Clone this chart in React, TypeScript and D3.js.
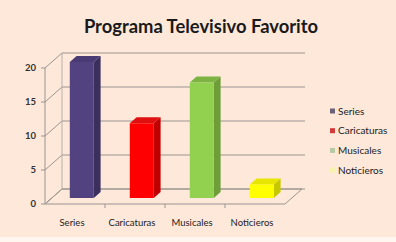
import * as d3 from 'd3';

const categories = ['Series', 'Caricaturas', 'Musicales', 'Noticieros'];
const values = [20, 11, 17, 2];
const yTicks = [0, 5, 10, 15, 20];
const fronts = ['#52427f', '#ff0000', '#92d050', '#ffff00'];
const sides = ['#3b2f5e', '#c00000', '#6f9e38', '#c8c800'];
const tops = ['#4a3b74', '#e01010', '#7cb342', '#e6e600'];
const legendMarks = ['#6a6278', '#d23a3a', '#b9c9a6', '#f7f2b0'];

const W = 396;
const H = 242;
const DX = 17; // depth offset of the back wall
const DY = 15;

export default function App() {
  const x = d3.scaleBand<string>()
    .domain(categories)
    .range([45, 285])
    .paddingInner(0.6)
    .paddingOuter(0.3);
  const y = d3.scaleLinear().domain([0, 20]).range([204, 68]);

  // projection: front coords shifted back by depth fraction
  const p = (px: number, py: number, d: number): [number, number] => [px + d * DX, py - d * DY];
  const pts = (arr: [number, number][]) => arr.map(a => a.join(',')).join(' ');

  const x0 = 45;
  const x1 = 285;
  const dFront = 0.4;
  const dBack = 0.8;
  const font = 'Lato, "Liberation Sans", sans-serif';

  return (
    <div style={{ position: 'fixed', left: 0, top: 0 }}>
      <svg width={W} height={H} style={{ display: 'block' }}>
        <rect width={W} height={H} fill="#fde8da" />
        <rect y={H - 5} width={W} height={5} fill="#fff6f0" />
        <text x={201} y={33} textAnchor="middle" fontFamily={font} fontWeight="bold" fontSize={18.4} fill="#1a1a1a">
          Programa Televisivo Favorito
        </text>

        {/* back wall + side wall gridlines */}
        {yTicks.map(t => {
          const f = p(x0, y(t), 0);
          const b = p(x0, y(t), 1);
          const r = p(x1 + 3, y(t), 1);
          return (
            <g key={t}>
              <line x1={f[0]} y1={f[1]} x2={b[0]} y2={b[1]} stroke="#9a948e" strokeWidth={1} />
              <line x1={b[0]} y1={b[1]} x2={r[0]} y2={r[1]} stroke="#9a948e" strokeWidth={1} />
            </g>
          );
        })}
        <line x1={x0 + DX} y1={y(0) - DY} x2={x0 + DX} y2={y(20) - DY} stroke="#b8b0a8" />

        {/* floor */}
        <polygon
          points={pts([p(x0, y(0), 0), p(x1, y(0), 0), p(x1, y(0), 1), p(x0, y(0), 1)])}
          fill="none"
          stroke="#9a948e"
        />

        {/* value axis */}
        <line x1={x0} y1={y(0)} x2={x0} y2={y(20)} stroke="#9a948e" />
        {yTicks.map(t => (
          <g key={'t' + t}>
            <line x1={x0 - 4} y1={y(t)} x2={x0} y2={y(t)} stroke="#9a948e" />
            <text x={36} y={y(t) + 3} textAnchor="end" fontFamily={font} fontWeight="bold" fontSize={9.5} fill="#333">
              {t}
            </text>
          </g>
        ))}
        {[1, 2, 3].map(i => {
          const tx = x0 + (i * (x1 - x0)) / 4;
          return <line key={'c' + i} x1={tx} y1={y(0)} x2={tx} y2={y(0) + 4} stroke="#9a948e" />;
        })}

        {/* bars */}
        {categories.map((c, i) => {
          const bx = x(c)!;
          const bw = x.bandwidth();
          const v = values[i];
          const fl = p(bx, y(0), dFront);
          const fr = p(bx + bw, y(0), dFront);
          const tl = p(bx, y(v), dFront);
          const tr = p(bx + bw, y(v), dFront);
          const btr = p(bx + bw, y(v), dBack);
          const btl = p(bx, y(v), dBack);
          const bbr = p(bx + bw, y(0), dBack);
          return (
            <g key={c}>
              <polygon points={pts([fr, bbr, btr, tr])} fill={sides[i]} />
              <polygon points={pts([tl, tr, btr, btl])} fill={tops[i]} />
              <polygon points={pts([fl, fr, tr, tl])} fill={fronts[i]} />
            </g>
          );
        })}

        {/* category labels */}
        {categories.map(c => (
          <text
            key={'l' + c}
            x={x(c)! + x.bandwidth() / 2 - 3}
            y={226}
            textAnchor="middle"
            fontFamily={font}
            fontSize={9.5}
            fill="#222"
          >
            {c}
          </text>
        ))}

        {/* legend */}
        {categories.map((c, i) => (
          <g key={'g' + c} transform={`translate(330,${111 + i * 19.7})`}>
            <rect x={0} y={-2.5} width={5} height={5} fill={legendMarks[i]} />
            <text x={8} y={3.5} fontFamily={font} fontSize={10} fill="#222">
              {c}
            </text>
          </g>
        ))}
      </svg>
    </div>
  );
}
